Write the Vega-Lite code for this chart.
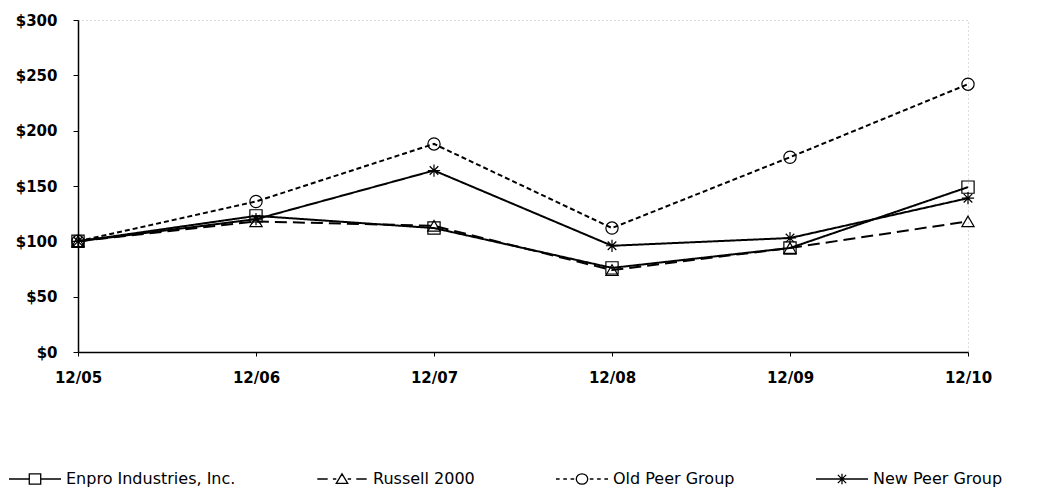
{
  "$schema": "https://vega.github.io/schema/vega-lite/v6.json",
  "width": 890,
  "height": 332,
  "autosize": {"type": "none"},
  "padding": {"left": 78, "top": 20, "right": 77, "bottom": 139},
  "background": "white",
  "view": {"stroke": "#bbbbbb", "strokeDash": [1, 3], "strokeWidth": 1},
  "config": {
    "font": "DejaVu Sans",
    "axis": {"grid": false, "domainColor": "black", "tickColor": "black", "labelColor": "black", "labelFont": "DejaVu Sans", "labelFontWeight": "bold", "labelFontSize": 15}
  },
  "data": {"values": [
    {"date": "12/05", "series": "Enpro Industries, Inc.", "value": 100},
    {"date": "12/06", "series": "Enpro Industries, Inc.", "value": 123},
    {"date": "12/07", "series": "Enpro Industries, Inc.", "value": 112},
    {"date": "12/08", "series": "Enpro Industries, Inc.", "value": 76},
    {"date": "12/09", "series": "Enpro Industries, Inc.", "value": 94},
    {"date": "12/10", "series": "Enpro Industries, Inc.", "value": 149},
    {"date": "12/05", "series": "Russell 2000", "value": 100},
    {"date": "12/06", "series": "Russell 2000", "value": 118},
    {"date": "12/07", "series": "Russell 2000", "value": 114},
    {"date": "12/08", "series": "Russell 2000", "value": 74},
    {"date": "12/09", "series": "Russell 2000", "value": 94},
    {"date": "12/10", "series": "Russell 2000", "value": 118},
    {"date": "12/05", "series": "Old Peer Group", "value": 100},
    {"date": "12/06", "series": "Old Peer Group", "value": 136},
    {"date": "12/07", "series": "Old Peer Group", "value": 188},
    {"date": "12/08", "series": "Old Peer Group", "value": 112},
    {"date": "12/09", "series": "Old Peer Group", "value": 176},
    {"date": "12/10", "series": "Old Peer Group", "value": 242},
    {"date": "12/05", "series": "New Peer Group", "value": 100},
    {"date": "12/06", "series": "New Peer Group", "value": 120},
    {"date": "12/07", "series": "New Peer Group", "value": 164},
    {"date": "12/08", "series": "New Peer Group", "value": 96},
    {"date": "12/09", "series": "New Peer Group", "value": 103},
    {"date": "12/10", "series": "New Peer Group", "value": 139}
  ]},
  "resolve": {"scale": {"shape": "independent"}, "legend": {"shape": "independent"}},
  "encoding": {
    "x": {"field": "date", "type": "ordinal", "scale": {"type": "point", "padding": 0},
      "axis": {"title": null, "labelAngle": 0, "labelPadding": 14, "tickSize": 4, "domainWidth": 1.5}},
    "y": {"field": "value", "type": "quantitative", "scale": {"domain": [0, 300], "nice": false},
      "axis": {"title": null, "values": [0, 50, 100, 150, 200, 250, 300], "format": "$,.0f", "labelPadding": 16, "tickSize": 5, "domainWidth": 1.5}}
  },
  "layer": [
    {
      "mark": {"type": "line", "color": "black", "strokeWidth": 2},
      "encoding": {
        "detail": {"field": "series"},
        "strokeDash": {"field": "series", "type": "nominal",
          "scale": {"domain": ["Enpro Industries, Inc.", "Russell 2000", "Old Peer Group", "New Peer Group"], "range": [[1, 0], [12, 6], [5, 3], [1, 0]]},
          "legend": null}
      }
    },
    {
      "mark": {"type": "point", "filled": false, "color": "black", "strokeWidth": 1.2, "opacity": 1},
      "encoding": {
        "shape": {"field": "series", "type": "nominal",
          "scale": {"domain": ["Enpro Industries, Inc.", "Russell 2000", "Old Peer Group", "New Peer Group"], "range": ["square", "triangle-up", "circle", "M-1,0L1,0M0,-1L0,1M-0.7,-0.7L0.7,0.7M-0.7,0.7L0.7,-0.7"]},
          "legend": null},
        "size": {"value": 150}
      }
    },
    {
      "mark": {"type": "point", "filled": false, "color": "black", "strokeWidth": 1.3, "opacity": 0},
      "encoding": {
        "shape": {"field": "series", "type": "nominal",
          "scale": {"domain": ["Enpro Industries, Inc.", "Russell 2000", "Old Peer Group", "New Peer Group"], "range": [
            "M-1,0H-0.22M0.22,0H1M-0.22,-0.2H0.22V0.2H-0.22Z",
            "M-0.95,0H-0.55M-0.35,0H-0.22M0.22,0H0.35M0.55,0H0.95M0,-0.2L0.22,0.17H-0.22Z",
            "M-1,0H-0.86M-0.72,0H-0.58M-0.44,0H-0.3M0.3,0H0.44M0.58,0H0.72M0.86,0H1M0.22,0A0.22,0.2 0 1,1 -0.22,0A0.22,0.2 0 1,1 0.22,0",
            "M-1,0H1M0,-0.2V0.2M-0.16,-0.16L0.16,0.16M-0.16,0.16L0.16,-0.16"]},
          "legend": {"title": null, "orient": "none", "legendX": -70, "legendY": 432, "direction": "horizontal", "columns": 4, "columnPadding": 78, "labelFontSize": 16, "labelFont": "DejaVu Sans", "labelColor": "black", "labelOffset": 4, "symbolSize": 2704, "labelLimit": 400, "symbolOpacity": 1, "symbolStrokeColor": "black", "symbolFillColor": "transparent", "symbolStrokeWidth": 1.3}}
      }
    }
  ]
}
